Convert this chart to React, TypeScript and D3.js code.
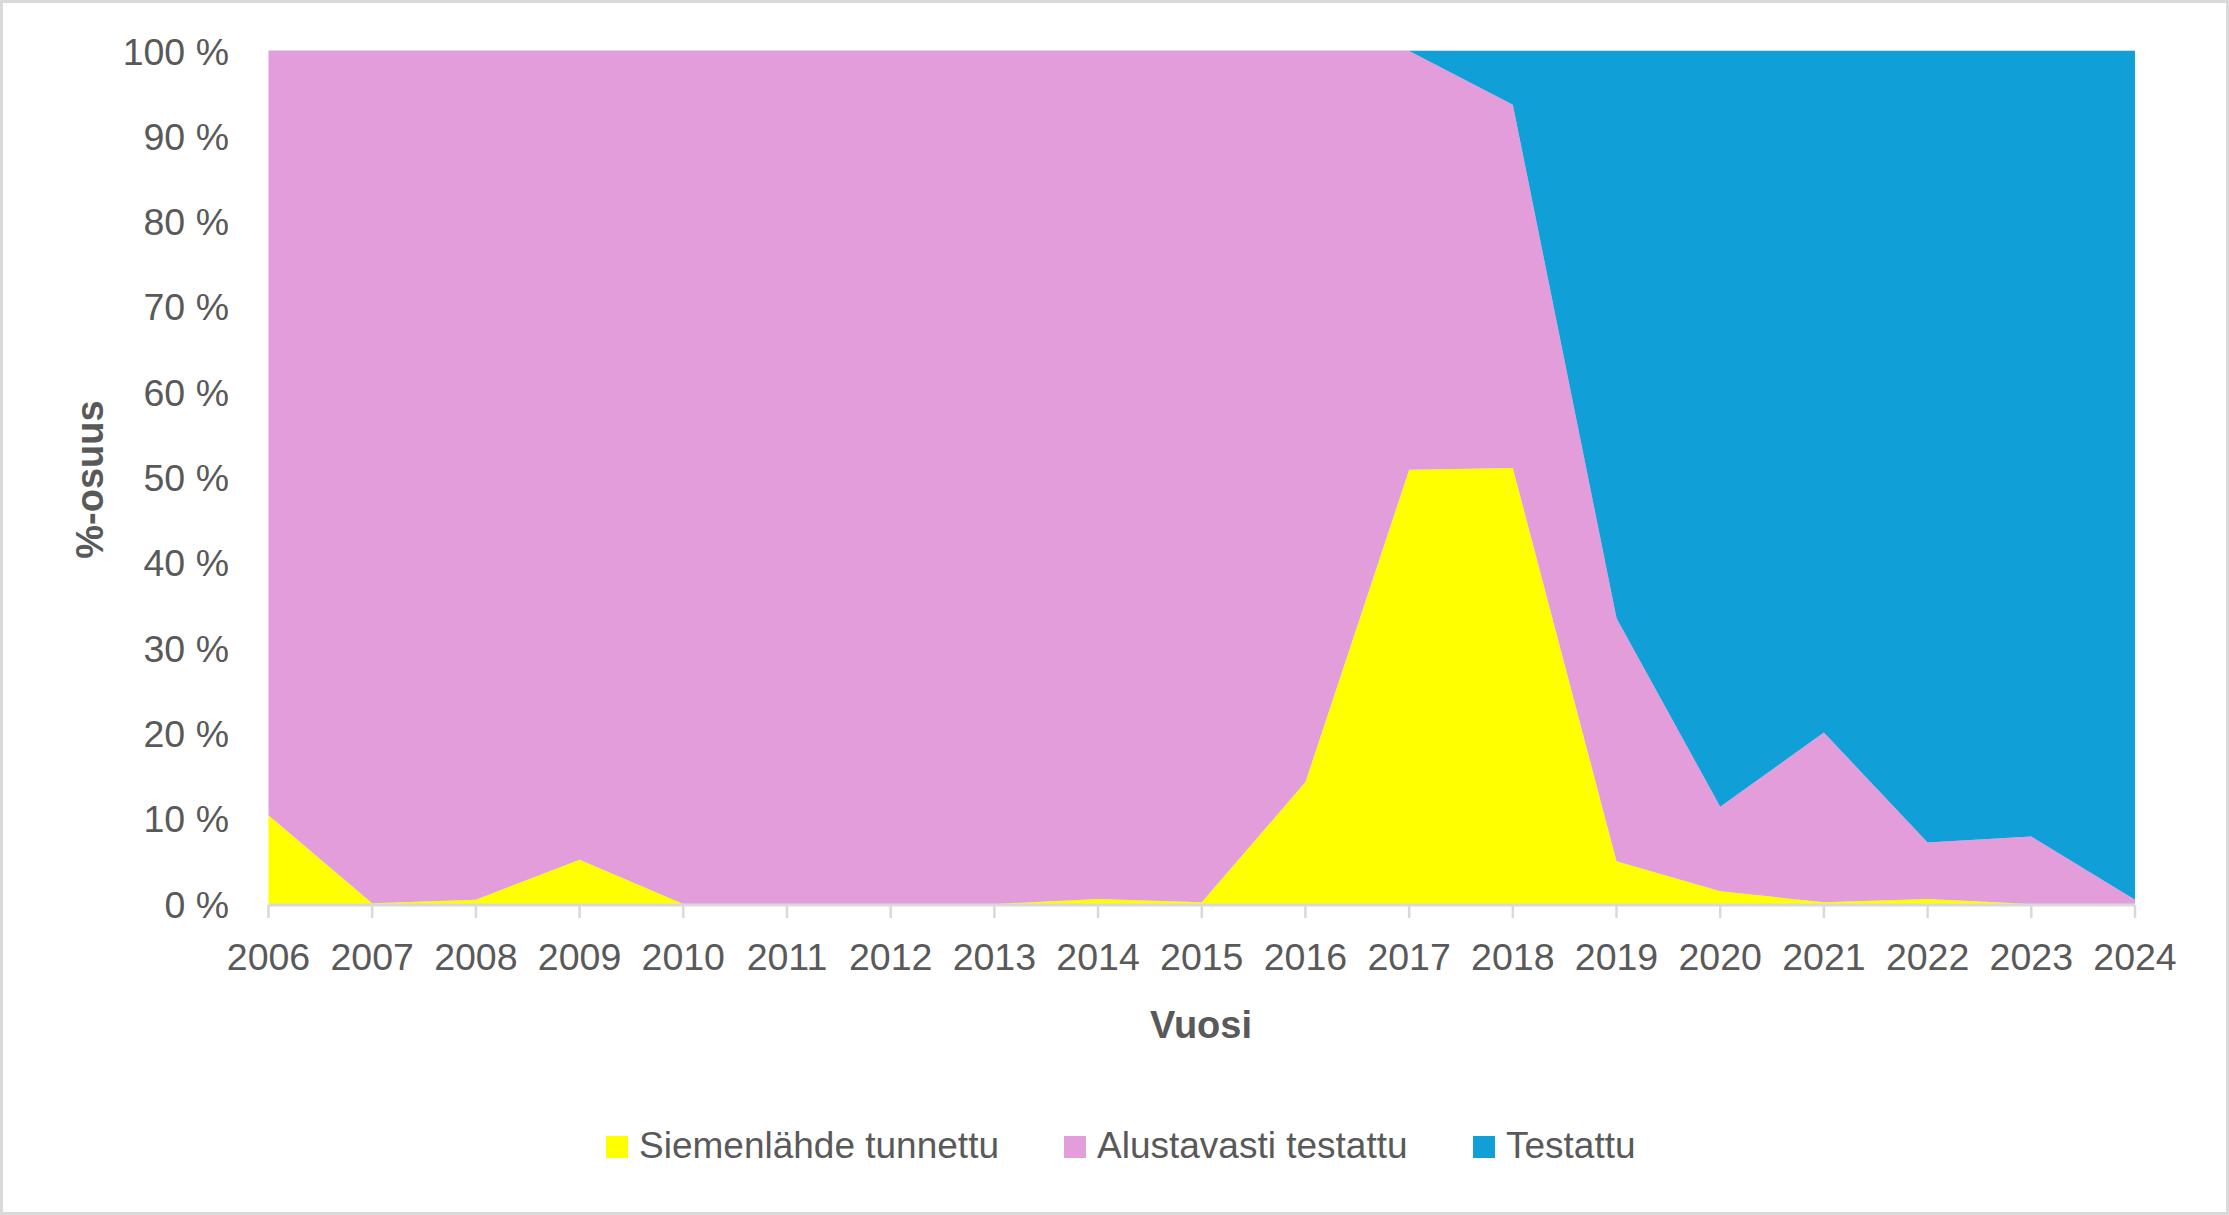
import React from "react";
import * as d3 from "d3";

const years = [2006, 2007, 2008, 2009, 2010, 2011, 2012, 2013, 2014, 2015, 2016, 2017, 2018, 2019, 2020, 2021, 2022, 2023, 2024];
const siemenlahde = [10.4, 0.1, 0.5, 5.2, 0, 0, 0, 0, 0.6, 0.2, 14.3, 50.9, 51.1, 5.0, 1.5, 0.2, 0.6, 0, 0];
const alustavasti = [89.6, 99.9, 99.5, 94.8, 100, 100, 100, 100, 99.4, 99.8, 85.7, 49.1, 42.6, 28.5, 9.9, 19.9, 6.6, 7.9, 0.5];
const testattu = [0, 0, 0, 0, 0, 0, 0, 0, 0, 0, 0, 0, 6.3, 66.5, 88.6, 79.9, 92.8, 92.1, 99.5];
const seriesNames = ["Siemenlähde tunnettu", "Alustavasti testattu", "Testattu"];
const seriesColors = ["#FFFF00", "#E39DDB", "#119FD7"];
const yTicks = [0, 10, 20, 30, 40, 50, 60, 70, 80, 90, 100];

const W = 2229;
const H = 1215;
const FONT = "'Liberation Sans', Arial, sans-serif";
const TEXT = "#595959";

export default function App() {
  const x = d3.scaleLinear().domain([2006, 2024]).range([268.5, 2135]);
  const y = d3.scaleLinear().domain([0, 100]).range([904, 51]);

  const rows = years.map((yr, i) => {
    const tot = siemenlahde[i] + alustavasti[i] + testattu[i];
    return {
      year: yr,
      s0: (siemenlahde[i] / tot) * 100,
      s1: (alustavasti[i] / tot) * 100,
      s2: (testattu[i] / tot) * 100,
    };
  });
  const stack = d3.stack<any>().keys(["s0", "s1", "s2"]);
  const stacked = stack(rows);
  const area = d3
    .area<any>()
    .x((d) => x(d.data.year))
    .y0((d) => y(d[0]))
    .y1((d) => y(d[1]));

  const legendX = [606, 1064, 1473];

  return (
    <svg
      width={W}
      height={H}
      viewBox={`0 0 ${W} ${H}`}
      style={{ position: "absolute", left: 0, top: 0, background: "#fff" }}
      fontFamily={FONT}
    >
      <rect x={1.5} y={1.5} width={W - 3} height={H - 3} fill="#fff" stroke="#D9D9D9" strokeWidth={3} />
      {yTicks.map((t) => (
        <line key={"g" + t} x1={x(2006)} x2={x(2024)} y1={y(t)} y2={y(t)} stroke="#D9D9D9" strokeWidth={2} />
      ))}
      {stacked.map((s, i) => (
        <path key={s.key} d={area(s) || ""} fill={seriesColors[i]} />
      ))}
      <line x1={x(2006)} x2={x(2024)} y1={905} y2={905} stroke="#D9D9D9" strokeWidth={3} />
      {years.map((yr) => (
        <g key={yr}>
          <line x1={x(yr)} x2={x(yr)} y1={905} y2={918} stroke="#D9D9D9" strokeWidth={2.5} />
          <text x={x(yr)} y={970} textAnchor="middle" fontSize={37.5} fill={TEXT}>
            {yr}
          </text>
        </g>
      ))}
      {yTicks.map((t) => (
        <text key={"t" + t} x={229} y={y(t) + 13.5} textAnchor="end" fontSize={37.5} fill={TEXT}>
          {`${t} %`}
        </text>
      ))}
      <text x={1201} y={1038} textAnchor="middle" fontSize={38} fontWeight="bold" fill={TEXT}>
        Vuosi
      </text>
      <text
        transform={`translate(103,${(y(0) + y(100)) / 2 + 2}) rotate(-90)`}
        textAnchor="middle"
        fontSize={38}
        fontWeight="bold"
        fill={TEXT}
      >
        %-osuus
      </text>
      {seriesNames.map((n, i) => (
        <g key={n}>
          <rect x={legendX[i]} y={1136} width={22} height={22} fill={seriesColors[i]} />
          <text x={legendX[i] + 33} y={1157.5} fontSize={37} fill={TEXT}>
            {n}
          </text>
        </g>
      ))}
    </svg>
  );
}
